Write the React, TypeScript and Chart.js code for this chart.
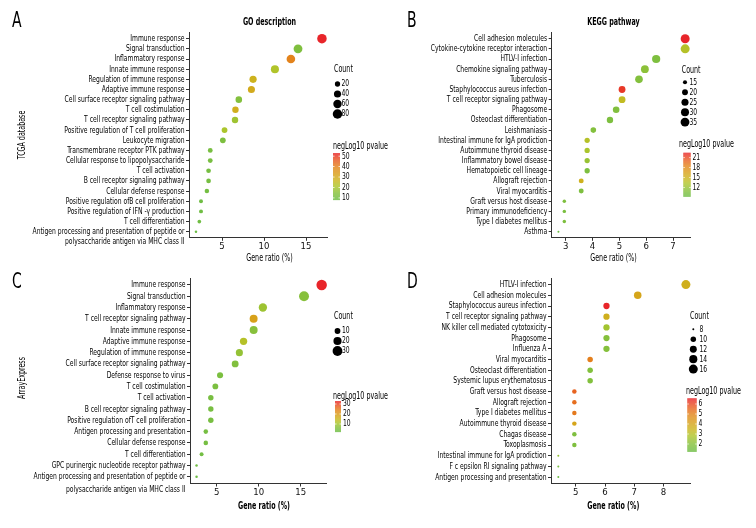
import React, { useEffect, useRef } from "react";
import { Chart, registerables } from "chart.js";
Chart.register(...registerables);

const FONT = "'Liberation Sans Narrow', 'DejaVu Sans Condensed', 'Arial Narrow', sans-serif";

// ---------------- Panel A : TCGA database, GO description ----------------
const aTerms = [
  "Immune response",
  "Signal transduction",
  "Inflammatory response",
  "Innate immune response",
  "Regulation of immune response",
  "Adaptive immune response",
  "Cell surface receptor signaling pathway",
  "T cell costimulation",
  "T cell receptor signaling pathway",
  "Positive regulation of T cell proliferation",
  "Leukocyte migration",
  "Transmembrane receptor PTK pathway",
  "Cellular response to lipopolysaccharide",
  "T cell activation",
  "B cell receptor signaling pathway",
  "Cellular defense response",
  "Positive regulation ofB cell proliferation",
  "Positive regulation of IFN -\u03b3 production",
  "T cell differentiation",
  "Antigen processing and presentation of peptide or\npolysaccharide antigen via MHC class II",
];
const aGeneRatio = [16.9, 14.05, 13.2, 11.3, 8.7, 8.5, 7.0, 6.6, 6.55, 5.3, 5.1, 3.6, 3.6, 3.4, 3.4, 3.2, 2.5, 2.5, 2.3, 1.9];
const aCount = [80, 67, 63, 54, 41, 40, 33, 31, 31, 25, 24, 17, 17, 16, 16, 15, 12, 12, 11, 9];
const aNegLog10P = [53, 13, 40, 22, 28, 30, 14, 29, 19, 21, 12.5, 11, 11, 10.5, 10.5, 10, 9, 9, 9, 8];
const aXTicks = [5, 10, 15];
const aCountTicks = [20, 40, 60, 80];
const aColorTicks = [10, 20, 30, 40, 50];

// ---------------- Panel B : TCGA database, KEGG pathway ----------------
const bTerms = [
  "Cell adhesion molecules",
  "Cytokine-cytokine receptor interaction",
  "HTLV-I infection",
  "Chemokine signaling pathway",
  "Tuberculosis",
  "Staphylococcus aureus infection",
  "T cell receptor signaling pathway",
  "Phagosome",
  "Osteoclast differentiation",
  "Leishmaniasis",
  "Intestinal immune for IgA prodiction",
  "Autoimmune thyroid disease",
  "Inflammatory bowel disease",
  "Hematopoietic cell lineage",
  "Allograft rejection",
  "Viral myocarditis",
  "Graft versus host disease",
  "Primary immunodeficiency",
  "Type I diabetes mellitus",
  "Asthma",
];
const bGeneRatio = [7.45, 7.45, 6.37, 5.95, 5.73, 5.1, 5.1, 4.88, 4.65, 4.03, 3.8, 3.8, 3.8, 3.8, 3.58, 3.58, 2.95, 2.95, 2.95, 2.73];
const bCount = [36, 36, 31, 29, 28, 24, 24, 23, 22, 19, 18, 18, 18, 18, 17, 17, 14, 14, 14, 13];
const bNegLog10P = [22.5, 13.6, 10.6, 11.5, 11, 21.8, 14.3, 10.8, 10.5, 11, 13.6, 13, 12.1, 10.5, 15.2, 10.6, 10.6, 10.3, 10.5, 9.2];
const bXTicks = [3, 4, 5, 6, 7];
const bCountTicks = [15, 20, 25, 30, 35];
const bColorTicks = [12, 15, 18, 21];

// ---------------- Panel C : ArrayExpress, GO description ----------------
const cTerms = [
  "Immune response",
  "Signal transduction",
  "Inflammatory response",
  "T cell receptor signaling pathway",
  "Innate immune response",
  "Adaptive immune response",
  "Regulation of immune response",
  "Cell surface receptor signaling pathway",
  "Defense response to virus",
  "T cell costimulation",
  "T cell activation",
  "B cell receptor signaling pathway",
  "Positive regulation ofT cell proliferation",
  "Antigen processing and presentation",
  "Cellular defense response",
  "T cell differentiation",
  "GPC purinergic nucleotide receptor pathway",
  "Antigen processing and presentation of peptide or\npolysaccharide antigen via MHC class II",
];
const cGeneRatio = [17.5, 15.4, 10.5, 9.4, 9.4, 8.2, 7.7, 7.2, 5.4, 4.84, 4.3, 4.3, 4.3, 3.7, 3.7, 3.2, 2.6, 2.6];
const cCount = [35, 31, 21, 19, 19, 16, 15, 14, 11, 10, 9, 9, 9, 7, 7, 6, 5, 5];
const cNegLog10P = [33, 7, 9.5, 19, 7, 12.4, 8.5, 6, 5, 5, 4.5, 4.5, 4.5, 4, 4, 3.5, 3, 2.3];
const cXTicks = [5, 10, 15];
const cCountTicks = [10, 20, 30];
const cColorTicks = [10, 20, 30];

// ---------------- Panel D : ArrayExpress, KEGG pathway ----------------
const dTerms = [
  "HTLV-I infection",
  "Cell adhesion molecules",
  "Staphylococcus aureus infection",
  "T cell receptor signaling pathway",
  "NK killer cell mediated cytotoxicity",
  "Phagosome",
  "Influenza A",
  "Viral myocarditis",
  "Osteoclast differentiation",
  "Systemic lupus erythematosus",
  "Graft versus host disease",
  "Allograft rejection",
  "Type I diabetes mellitus",
  "Autoimmune thyroid disease",
  "Chagas disease",
  "Toxoplasmosis",
  "Intestinal immune for IgA prodiction",
  "F c epsilon RI signaling pathway",
  "Antigen processing and presentation",
];
const dGeneRatio = [8.77, 7.12, 6.05, 6.05, 6.05, 6.05, 6.05, 5.49, 5.49, 5.49, 4.95, 4.95, 4.95, 4.95, 4.95, 4.95, 4.4, 4.4, 4.4];
const dCount = [16, 13, 11, 11, 11, 11, 11, 10, 10, 10, 9, 9, 9, 9, 9, 9, 8, 8, 8];
const dNegLog10P = [3.7, 4.0, 6.57, 3.7, 2.6, 2.0, 2.0, 5.1, 1.9, 1.9, 5.6, 5.4, 5.2, 4.0, 1.8, 1.8, 2.3, 1.6, 1.23];
const dXTicks = [5, 6, 7, 8];
const dCountTicks = [8, 10, 12, 14, 16];
const dColorTicks = [2, 3, 4, 5, 6];

// ---------------- colour scale ----------------
const STOPS: [number, number[]][] = [
  [0, [108, 189, 69]],
  [0.15, [134, 192, 60]],
  [0.3, [174, 197, 43]],
  [0.42, [203, 182, 30]],
  [0.55, [216, 160, 26]],
  [0.7, [227, 134, 27]],
  [0.85, [232, 90, 34]],
  [1, [232, 37, 42]],
];
function colorAt(t: number) {
  t = Math.max(0, Math.min(1, t));
  for (let i = 1; i < STOPS.length; i++) {
    const [t1, c1] = STOPS[i];
    const [t0, c0] = STOPS[i - 1];
    if (t <= t1) {
      const f = (t - t0) / (t1 - t0);
      const c = c0.map((v, k) => Math.round(v + (c1[k] - v) * f));
      return `rgb(${c[0]},${c[1]},${c[2]})`;
    }
  }
  return "rgb(232,37,42)";
}

// horizontal compression so the installed font matches the condensed face of the original
let SX = 0.8;
function calibrate() {
  const c = document.createElement("canvas").getContext("2d");
  if (!c) return;
  c.font = `9.5px ${FONT}`;
  const w = c.measureText("Antigen processing and presentation of peptide or").width;
  if (w > 0) SX = Math.min(1, 152 / w);
}

function txt(ctx: CanvasRenderingContext2D, s: string, x: number, y: number, align: CanvasTextAlign) {
  ctx.save();
  ctx.translate(x, y);
  ctx.scale(SX, 1);
  ctx.textAlign = align;
  ctx.fillText(s, 0, 0);
  ctx.restore();
}

type PanelData = {
  terms: string[];
  ratio: number[];
  count: number[];
  neg: number[];
  xTicks: number[];
  countTicks: number[];
  colorTicks: number[];
};

type Layout = {
  L: number; R: number; T: number; B: number;
  xMin: number; xMax: number; lineGap: number;
  letter: string; letterX: number; letterY: number;
  title?: string; titleX?: number; titleY?: number;
  xTitleX: number; xTitleY: number; xTitleBold: boolean;
  yTitle?: string; yTitleX?: number; yTitleY?: number;
  cTitleX: number; cTitleY: number; cDotX: number; cLabelX: number; cY0: number; cStep: number;
  nTitleX: number; nTitleY: number; barX0: number; barX1: number; barY0: number; barY1: number; nLabelX: number;
  dMin: number; dMax: number;
};

const panels: { data: PanelData; lay: Layout }[] = [
  {
    data: { terms: aTerms, ratio: aGeneRatio, count: aCount, neg: aNegLog10P, xTicks: aXTicks, countTicks: aCountTicks, colorTicks: aColorTicks },
    lay: {
      L: 189, R: 327, T: 32.6, B: 237.8, xMin: 1.07, xMax: 17.5, lineGap: 10,
      letter: "A", letterX: 12, letterY: 27,
      title: "GO description", titleX: 269.5, titleY: 22,
      xTitleX: 269.5, xTitleY: 258, xTitleBold: false,
      yTitle: "TCGA database", yTitleX: 22, yTitleY: 135,
      cTitleX: 334, cTitleY: 69.5, cDotX: 337.5, cLabelX: 341.5, cY0: 84, cStep: 10,
      nTitleX: 333, nTitleY: 146, barX0: 333, barX1: 340, barY0: 153, barY1: 200, nLabelX: 342,
      dMin: 2.5, dMax: 9.5,
    },
  },
  {
    data: { terms: bTerms, ratio: bGeneRatio, count: bCount, neg: bNegLog10P, xTicks: bXTicks, countTicks: bCountTicks, colorTicks: bColorTicks },
    lay: {
      L: 551.7, R: 690, T: 32.6, B: 237.8, xMin: 2.48, xMax: 7.63, lineGap: 10,
      letter: "B", letterX: 407, letterY: 27,
      title: "KEGG pathway", titleX: 613.5, titleY: 22,
      xTitleX: 613.5, xTitleY: 258, xTitleBold: false,
      cTitleX: 681.7, cTitleY: 70, cDotX: 685, cLabelX: 689.5, cY0: 82.3, cStep: 9.95,
      nTitleX: 679, nTitleY: 144, barX0: 683.3, barX1: 690.7, barY0: 152.7, barY1: 196.7, nLabelX: 692.5,
      dMin: 2, dMax: 9,
    },
  },
  {
    data: { terms: cTerms, ratio: cGeneRatio, count: cCount, neg: cNegLog10P, xTicks: cXTicks, countTicks: cCountTicks, colorTicks: cColorTicks },
    lay: {
      L: 190, R: 326.7, T: 278.2, B: 483.5, xMin: 1.82, xMax: 18.1, lineGap: 13,
      letter: "C", letterX: 12, letterY: 288,
      xTitleX: 264, xTitleY: 506, xTitleBold: true,
      yTitle: "ArrayExpress", yTitleX: 22, yTitleY: 378,
      cTitleX: 334, cTitleY: 316, cDotX: 337.5, cLabelX: 342, cY0: 331, cStep: 10,
      nTitleX: 333, nTitleY: 396, barX0: 335, barX1: 341, barY0: 401, barY1: 431.7, nLabelX: 343,
      dMin: 2.5, dMax: 10.5,
    },
  },
  {
    data: { terms: dTerms, ratio: dGeneRatio, count: dCount, neg: dNegLog10P, xTicks: dXTicks, countTicks: dCountTicks, colorTicks: dColorTicks },
    lay: {
      L: 551, R: 690, T: 278.2, B: 483.5, xMin: 4.15, xMax: 8.91, lineGap: 10,
      letter: "D", letterX: 407, letterY: 288,
      xTitleX: 613.3, xTitleY: 506, xTitleBold: true,
      cTitleX: 690, cTitleY: 316, cDotX: 693.3, cLabelX: 699.5, cY0: 329.3, cStep: 9.95,
      nTitleX: 686, nTitleY: 391, barX0: 687.3, barX1: 696.7, barY0: 398.3, barY1: 451.7, nLabelX: 698.5,
      dMin: 2, dMax: 9,
    },
  },
];

const W = 756;
const H = 528;

function makeChart(canvas: HTMLCanvasElement, P: PanelData, Lay: Layout) {
  const n = P.terms.length;
  const cMin = Math.min(...P.count);
  const cMax = Math.max(...P.count);
  const vMin = Math.min(...P.neg);
  const vMax = Math.max(...P.neg);
  const diam = (c: number) => Lay.dMin + (Lay.dMax - Lay.dMin) * Math.sqrt(Math.max(0, (c - cMin) / (cMax - cMin)));
  const col = (v: number) => colorAt((v - vMin) / (vMax - vMin));

  const points = P.terms.map((_, i) => ({ x: P.ratio[i], y: i, r: diam(P.count[i]) / 2 }));
  const axisColor = "#333";

  const overlay = {
    id: "overlay" + Lay.letter,
    afterDraw(chart: any) {
      const ctx: CanvasRenderingContext2D = chart.ctx;
      ctx.save();
      ctx.fillStyle = "#000";
      ctx.textBaseline = "alphabetic";
      ctx.font = `22px ${FONT}`;
      txt(ctx, Lay.letter, Lay.letterX, Lay.letterY, "left");

      ctx.textBaseline = "middle";
      // category labels, placed by the y scale
      const ys = chart.scales.y;
      ctx.font = `9.5px ${FONT}`;
      ctx.fillStyle = "#000";
      P.terms.forEach((s, i) => {
        const y = ys.getPixelForValue(i);
        const lines = s.split("\n");
        lines.forEach((ln, k) => txt(ctx, ln, Lay.L - 4.5, y + k * Lay.lineGap, "right"));
      });

      if (Lay.title) {
        ctx.font = `bold 10px ${FONT}`;
        txt(ctx, Lay.title, Lay.titleX!, Lay.titleY!, "center");
      }
      ctx.font = `${Lay.xTitleBold ? "bold " : ""}10px ${FONT}`;
      txt(ctx, "Gene ratio (%)", Lay.xTitleX, Lay.xTitleY, "center");

      if (Lay.yTitle) {
        ctx.save();
        ctx.translate(Lay.yTitleX!, Lay.yTitleY!);
        ctx.rotate(-Math.PI / 2);
        ctx.font = `10px ${FONT}`;
        txt(ctx, Lay.yTitle, 0, 0, "center");
        ctx.restore();
      }

      // Count legend
      ctx.font = `10px ${FONT}`;
      txt(ctx, "Count", Lay.cTitleX, Lay.cTitleY, "left");
      ctx.font = `9.5px ${FONT}`;
      P.countTicks.forEach((c, k) => {
        const y = Lay.cY0 + k * Lay.cStep;
        ctx.beginPath();
        ctx.fillStyle = "#000";
        ctx.arc(Lay.cDotX, y, diam(c) / 2, 0, Math.PI * 2);
        ctx.fill();
        txt(ctx, String(c), Lay.cLabelX, y, "left");
      });

      // colour legend
      ctx.font = `10px ${FONT}`;
      txt(ctx, "negLog10 pvalue", Lay.nTitleX, Lay.nTitleY, "left");
      const h = Lay.barY1 - Lay.barY0;
      for (let py = 0; py < h; py += 0.5) {
        const t = 1 - py / h;
        ctx.fillStyle = colorAt(t);
        ctx.fillRect(Lay.barX0, Lay.barY0 + py, Lay.barX1 - Lay.barX0, 0.6);
      }
      ctx.font = `9.5px ${FONT}`;
      P.colorTicks.forEach((v) => {
        const y = Lay.barY1 - ((v - vMin) / (vMax - vMin)) * h;
        ctx.fillStyle = "rgba(255,255,255,0.9)";
        ctx.fillRect(Lay.barX0, y - 0.4, 1.5, 0.8);
        ctx.fillRect(Lay.barX1 - 1.5, y - 0.4, 1.5, 0.8);
        ctx.fillStyle = "#000";
        txt(ctx, String(v), Lay.nLabelX, y, "left");
      });
      ctx.restore();
    },
  };

  return new Chart(canvas, {
    type: "bubble",
    data: {
      datasets: [
        {
          data: points,
          backgroundColor: P.neg.map(col),
          borderWidth: 0,
          hoverBorderWidth: 0,
          clip: false as any,
        } as any,
      ],
    },
    options: {
      responsive: false,
      maintainAspectRatio: false,
      animation: false,
      devicePixelRatio: 1,
      events: [],
      layout: { padding: { left: 0, right: W - Lay.R, top: Lay.T, bottom: H - Lay.B - 20 } },
      plugins: { legend: { display: false }, tooltip: { enabled: false } },
      scales: {
        x: {
          type: "linear",
          position: "bottom",
          min: Lay.xMin,
          max: Lay.xMax,
          afterBuildTicks: (s: any) => {
            s.ticks = P.xTicks.map((v) => ({ value: v }));
          },
          afterFit: (s: any) => {
            s.height = 20;
          },
          grid: { drawOnChartArea: false, drawTicks: true, tickLength: 3, color: axisColor, lineWidth: 1 },
          border: { display: true, color: axisColor, width: 1 },
          ticks: { font: { family: FONT, size: 9.5 }, color: "#111", padding: 0, maxRotation: 0, autoSkip: false },
        },
        y: {
          type: "linear",
          position: "left",
          reverse: true,
          min: -0.6,
          max: n - 0.4,
          afterBuildTicks: (s: any) => {
            s.ticks = P.terms.map((_, i) => ({ value: i }));
          },
          afterFit: (s: any) => {
            s.width = Lay.L;
          },
          grid: { drawOnChartArea: false, drawTicks: true, tickLength: 3, color: axisColor, lineWidth: 1 },
          border: { display: true, color: axisColor, width: 1 },
          ticks: { display: false, autoSkip: false },
        },
      },
    } as any,
    plugins: [overlay],
  });
}

function Panel({ data, lay }: { data: PanelData; lay: Layout }) {
  const ref = useRef<HTMLCanvasElement | null>(null);
  useEffect(() => {
    if (!ref.current) return;
    calibrate();
    const ch = makeChart(ref.current, data, lay);
    return () => ch.destroy();
  }, []);
  return (
    <canvas
      ref={ref}
      width={W}
      height={H}
      style={{ position: "absolute", left: 0, top: 0, width: W, height: H }}
    />
  );
}

export default function App() {
  return (
    <div style={{ position: "fixed", left: 0, top: 0, width: W, height: H, background: "#fff", overflow: "hidden" }}>
      {panels.map((p, i) => (
        <Panel key={i} data={p.data} lay={p.lay} />
      ))}
    </div>
  );
}
